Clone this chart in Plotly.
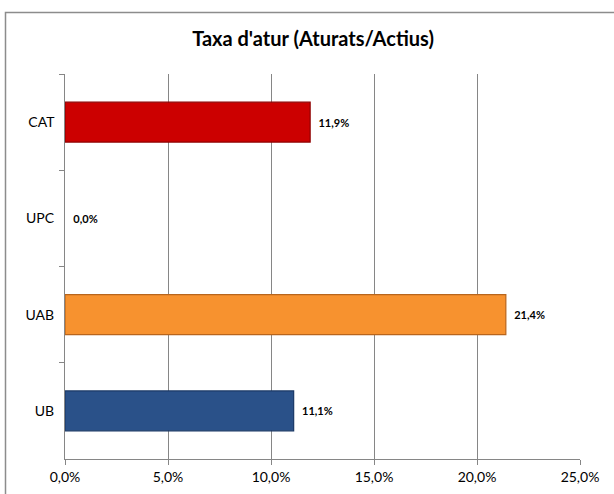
import plotly.graph_objects as go

categories = ["CAT", "UPC", "UAB", "UB"]
values = [0.119, 0.0, 0.214, 0.111]
bar_colors = ["#CC0000", "#FFFFFF", "#F7922F", "#2A5189"]
line_colors = ["#8E0000", "#FFFFFF", "#B8651C", "#1A3866"]
x_ticks = [0.0, 0.05, 0.10, 0.15, 0.20, 0.25]

fig = go.Figure()
fig.add_trace(go.Bar(
    y=categories, x=values, orientation="h",
    marker=dict(color=bar_colors, line=dict(color=line_colors, width=1.2)),
    texttemplate="  %{x:.1%}", textposition="outside", cliponaxis=False,
    textfont=dict(family="Lato, Arial", size=11, color="#000000", weight="bold"),
    width=0.415, showlegend=False,
))

fig.update_layout(
    width=614, height=494,
    margin=dict(l=65, r=34, t=74, b=35),
    paper_bgcolor="white", plot_bgcolor="white",
    separators=",.",
    font=dict(family="Lato, Arial", size=14, color="#000000"),
    title=dict(text="<b>Taxa d'atur (Aturats/Actius)</b>", x=313 / 614, xanchor="center",
               y=1 - 39 / 494, yanchor="middle", font=dict(size=20, family="Lato, Arial")),
    xaxis=dict(range=[0, 0.25], tickvals=x_ticks, tickformat=".1%",
               showgrid=True, gridcolor="#868686", gridwidth=1,
               showline=True, linecolor="#868686", linewidth=1,
               ticks="outside", ticklen=5, tickcolor="#868686",
               zeroline=False, tickfont=dict(size=14), automargin=False),
    yaxis=dict(autorange="reversed", showgrid=False,
               showline=True, linecolor="#868686", linewidth=1,
               ticks="outside", ticklen=5, tickcolor="#868686",
               tickson="boundaries", ticksuffix="  ", tickfont=dict(size=14),
               automargin=False),
    shapes=[dict(type="rect", xref="paper", yref="paper",
                 x0=(5.5 - 65) / 515, x1=(630 - 65) / 515,
                 y0=(459 - 510) / 385, y1=(459 - 12.5) / 385,
                 line=dict(color="#8C8C8C", width=1.5), layer="below")],
)

fig.write_html("out.html", config={"displayModeBar": False},
               post_script="document.body.style.margin='0';")
